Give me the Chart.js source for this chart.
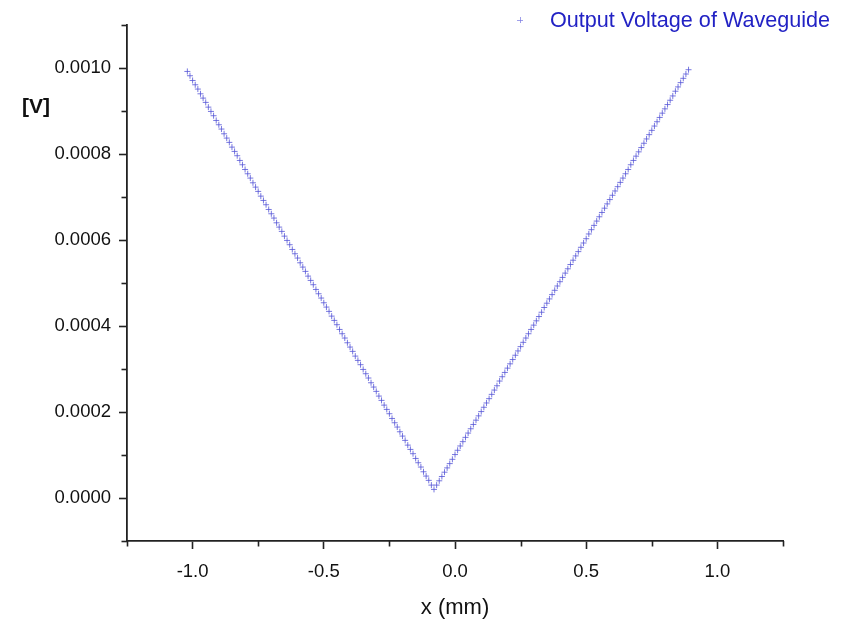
<!DOCTYPE html>
<html><head><meta charset="utf-8">
<style>html,body{margin:0;padding:0;background:#fff}#wrap{width:843px;height:622px}</style>
<script src="https://cdn.jsdelivr.net/npm/chart.js@4.4.1/dist/chart.umd.min.js"></script>
</head><body><div id="wrap"><canvas id="c" width="843" height="622"></canvas></div>
<script>
const positionMM = [
-1.02,-1.01,-1.00,-0.99,-0.98,-0.97,-0.96,-0.95,-0.94,-0.93,-0.92,-0.91,-0.90,-0.89,-0.88,-0.87,-0.86,-0.85,-0.84,-0.83,
-0.82,-0.81,-0.80,-0.79,-0.78,-0.77,-0.76,-0.75,-0.74,-0.73,-0.72,-0.71,-0.70,-0.69,-0.68,-0.67,-0.66,-0.65,-0.64,-0.63,
-0.62,-0.61,-0.60,-0.59,-0.58,-0.57,-0.56,-0.55,-0.54,-0.53,-0.52,-0.51,-0.50,-0.49,-0.48,-0.47,-0.46,-0.45,-0.44,-0.43,
-0.42,-0.41,-0.40,-0.39,-0.38,-0.37,-0.36,-0.35,-0.34,-0.33,-0.32,-0.31,-0.30,-0.29,-0.28,-0.27,-0.26,-0.25,-0.24,-0.23,
-0.22,-0.21,-0.20,-0.19,-0.18,-0.17,-0.16,-0.15,-0.14,-0.13,-0.12,-0.11,-0.10,-0.09,-0.08,-0.07,-0.06,-0.05,-0.04,-0.03,
-0.02,-0.01,0.00,0.01,0.02,0.03,0.04,0.05,0.06,0.07,0.08,0.09,0.10,0.11,0.12,0.13,0.14,0.15,0.16,0.17,
0.18,0.19,0.20,0.21,0.22,0.23,0.24,0.25,0.26,0.27,0.28,0.29,0.30,0.31,0.32,0.33,0.34,0.35,0.36,0.37,
0.38,0.39,0.40,0.41,0.42,0.43,0.44,0.45,0.46,0.47,0.48,0.49,0.50,0.51,0.52,0.53,0.54,0.55,0.56,0.57,
0.58,0.59,0.60,0.61,0.62,0.63,0.64,0.65,0.66,0.67,0.68,0.69,0.70,0.71,0.72,0.73,0.74,0.75,0.76,0.77,
0.78,0.79,0.80,0.81,0.82,0.83,0.84,0.85,0.86,0.87,0.88,0.89
];
// output voltage in microvolts
const voltageUV = [
992,982,971,961,951,940,930,920,909,899,
889,878,868,858,847,837,827,816,806,796,
785,775,764,754,744,733,723,713,702,692,
682,671,661,651,640,630,620,609,599,589,
578,568,558,547,537,527,516,506,496,485,
475,465,454,444,434,423,413,403,392,382,
372,361,351,341,330,320,310,299,289,279,
268,258,248,237,227,216,206,196,185,175,
165,154,144,134,123,113,103,92,82,72,
61,51,41,30,20,
30,40,50,60,70,80,90,101,111,121,
131,141,151,161,171,181,191,201,211,221,
231,241,251,261,272,282,292,302,312,322,
332,342,352,362,372,382,392,402,412,422,
432,443,453,463,473,483,493,503,513,523,
533,543,553,563,573,583,593,603,614,624,
634,644,654,664,674,684,694,704,714,724,
734,744,754,764,775,785,795,805,815,825,
835,845,855,865,875,885,895,905,915,925,
935,946,956,966,976,986,996
];
const seriesLabel = 'Output Voltage of Waveguide';
const xAxisTitle = 'x (mm)';
const yAxisTitle = '[V]';
const xTickValues = [-1.25,-1.0,-0.75,-0.5,-0.25,0,0.25,0.5,0.75,1.0,1.25];
const yTickValues = [-0.0001,0,0.0001,0.0002,0.0003,0.0004,0.0005,0.0006,0.0007,0.0008,0.0009,0.0010,0.0011];

const FONT = "'Liberation Sans', Arial, sans-serif";
const pointColor = 'rgba(85,85,215,0.8)';
const legendPointColor = 'rgba(120,120,225,0.7)';
const legendTextColor = '#2222c4';
const axisColor = '#222';

const points = positionMM.map((x, i) => ({ x: x, y: voltageUV[i] * 1e-6 }));

const extras = {
  id: 'extras',
  afterDraw(chart) {
    const ctx = chart.ctx;
    ctx.save();
    // minor ticks
    ctx.strokeStyle = axisColor;
    ctx.lineWidth = 1.6;
    const xs = chart.scales.x, ys = chart.scales.y;
    xs.ticks.forEach((t, i) => {
      if (i % 2 === 0) {
        const px = Math.round(xs.getPixelForValue(t.value)) + 0.5;
        ctx.beginPath(); ctx.moveTo(px, xs.top); ctx.lineTo(px, xs.top + 5.5); ctx.stroke();
      }
    });
    ys.ticks.forEach((t, i) => {
      if (i % 2 === 0) {
        const py = Math.round(ys.getPixelForValue(t.value)) + 0.5;
        ctx.beginPath(); ctx.moveTo(ys.right, py); ctx.lineTo(ys.right - 5.5, py); ctx.stroke();
      }
    });
    // y axis label (horizontal)
    ctx.fillStyle = '#111';
    ctx.font = "bold 21px " + FONT;
    ctx.textAlign = 'left';
    ctx.textBaseline = 'middle';
    ctx.fillText(yAxisTitle, 22, 107);
    // legend
    const lx = 520, ly = 20;
    ctx.strokeStyle = legendPointColor;
    ctx.lineWidth = 1;
    ctx.beginPath();
    ctx.moveTo(lx - 3, ly + 0.5); ctx.lineTo(lx + 3, ly + 0.5);
    ctx.moveTo(lx + 0.5, ly - 3); ctx.lineTo(lx + 0.5, ly + 3);
    ctx.stroke();
    ctx.fillStyle = legendTextColor;
    ctx.font = "21.6px " + FONT;
    ctx.fillText(chart.data.datasets[0].label, 550, ly + 1);
    ctx.restore();
  }
};

new Chart(document.getElementById('c'), {
  type: 'scatter',
  data: {
    datasets: [{
      label: seriesLabel,
      data: points,
      pointStyle: 'cross',
      pointRadius: 3,
      pointBorderWidth: 1,
      borderColor: pointColor,
      backgroundColor: pointColor,
      showLine: false
    }]
  },
  options: {
    responsive: false,
    devicePixelRatio: 1,
    animation: false,
    layout: { padding: { left: 0, right: 60, top: 25, bottom: 0 } },
    plugins: { legend: { display: false }, tooltip: { enabled: false } },
    scales: {
      x: {
        type: 'linear',
        min: -1.25, max: 1.25,
        afterBuildTicks: s => { s.ticks = xTickValues.map(v => ({ value: v })); },
        afterFit: s => { s.height = 81; },
        ticks: {
          autoSkip: false,
          maxRotation: 0,
          padding: 12,
          color: '#111',
          font: { family: FONT, size: 18.5 },
          callback: (v, i) => (i % 2 === 1 ? Number(xTickValues[i]).toFixed(1) : '')
        },
        grid: {
          display: true, drawOnChartArea: false, drawTicks: true, tickLength: 8,
          tickWidth: 1.6,
          tickColor: c => (c.index % 2 === 1 ? axisColor : 'rgba(0,0,0,0)')
        },
        border: { display: true, color: axisColor, width: 1.8 },
        title: {
          display: true, text: xAxisTitle, color: '#111',
          font: { family: FONT, size: 22 },
          padding: { top: 0, bottom: 1 }
        }
      },
      y: {
        type: 'linear',
        min: -0.0001, max: 0.0011,
        afterBuildTicks: s => { s.ticks = yTickValues.map(v => ({ value: v })); },
        afterFit: s => { s.width = 127; },
        ticks: {
          autoSkip: false,
          padding: 8,
          color: '#111',
          font: { family: FONT, size: 18.5 },
          callback: (v, i) => (i % 2 === 1 ? Number(yTickValues[i]).toFixed(4) : '')
        },
        grid: {
          display: true, drawOnChartArea: false, drawTicks: true, tickLength: 8,
          tickWidth: 1.6,
          tickColor: c => (c.index % 2 === 1 ? axisColor : 'rgba(0,0,0,0)')
        },
        border: { display: true, color: axisColor, width: 1.8 }
      }
    }
  },
  plugins: [extras]
});
</script>
</body></html>
